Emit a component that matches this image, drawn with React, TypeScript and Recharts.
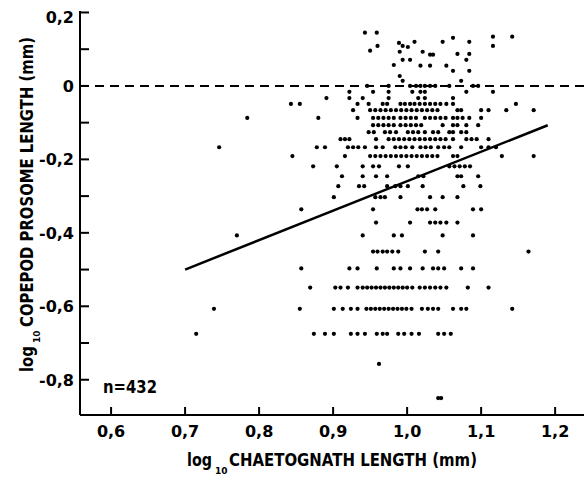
import React from 'react';
import { ScatterChart, Scatter, XAxis, YAxis, ReferenceLine } from 'recharts';

// log10 copepod prosome length: the discrete levels the points sit on
const copepodLevels = [
  0, -0.016, -0.033, -0.049, -0.066, -0.087, -0.107, -0.126, -0.145, -0.167, -0.191, -0.219,
  -0.246, -0.273, -0.303, -0.336, -0.372, -0.407, -0.451, -0.497, -0.549, -0.607, -0.675,
  -0.757, -0.85,
];

// log10 chaetognath length for the points on each level (same order as copepodLevels)
const chaetognathAtLevel = [
  [0.946, 0.975, 1.004, 1.012, 1.018, 1.024, 1.031, 1.038, 1.057, 1.089, 1.096],
  [0.922, 0.954, 0.975, 1.007, 1.018, 1.024, 1.08, 1.116],
  [0.891, 0.922, 0.94, 0.975, 1.015, 1.024, 1.062],
  [0.843, 0.855, 0.933, 0.948, 0.967, 0.973, 0.991, 0.997, 1.004, 1.01, 1.017, 1.024, 1.031, 1.038, 1.045, 1.053, 1.062, 1.147],
  [0.927, 0.95, 0.957, 0.964, 0.971, 0.978, 0.985, 0.992, 0.999, 1.006, 1.013, 1.02, 1.027, 1.034, 1.041, 1.068, 1.073, 1.1, 1.11, 1.134, 1.171],
  [0.784, 0.88, 0.933, 0.954, 0.961, 0.968, 0.975, 0.982, 0.991, 0.998, 1.005, 1.012, 1.024, 1.031, 1.038, 1.045, 1.052, 1.062, 1.068, 1.075, 1.084, 1.1],
  [0.954, 0.961, 0.968, 0.975, 0.982, 0.991, 0.998, 1.005, 1.012, 1.019, 1.048, 1.062, 1.068, 1.08, 1.096],
  [0.948, 0.955, 0.97, 0.977, 0.985, 1.001, 1.008, 1.015, 1.024, 1.035, 1.042, 1.057, 1.062, 1.073, 1.08],
  [0.91, 0.916, 0.922, 0.958, 0.975, 0.982, 0.989, 0.996, 1.003, 1.01, 1.017, 1.024, 1.031, 1.038, 1.045, 1.052, 1.062, 1.08, 1.087, 1.094, 1.11],
  [0.746, 0.878, 0.889, 0.92, 0.927, 0.934, 0.943, 0.958, 0.967, 0.984, 0.991, 0.998, 1.007, 1.018, 1.025, 1.032, 1.042, 1.05, 1.057, 1.073, 1.1, 1.11, 1.12],
  [0.845, 0.916, 0.95, 0.957, 0.964, 0.971, 0.978, 0.985, 0.992, 0.999, 1.006, 1.013, 1.02, 1.027, 1.034, 1.041, 1.062, 1.068, 1.128, 1.171],
  [0.873, 0.905, 0.94, 0.954, 0.962, 0.989, 1.001, 1.057, 1.064, 1.071, 1.078, 1.085],
  [0.912, 0.94, 0.958, 0.973, 1.015, 1.022, 1.068, 1.073, 1.096],
  [0.907, 0.935, 0.942, 0.973, 0.984, 0.991, 1.001, 1.021, 1.076, 1.099],
  [0.901, 0.957, 0.964, 0.97, 0.991, 1.031, 1.048, 1.068],
  [0.857, 0.954, 1.014, 1.02, 1.027, 1.038, 1.089, 1.1],
  [0.958, 1.004, 1.031, 1.038, 1.045, 1.053, 1.068],
  [0.77, 0.94, 0.982, 0.993, 1.048, 1.089],
  [0.954, 0.96, 0.967, 0.973, 0.98, 0.988, 1.024, 1.042, 1.164],
  [0.857, 0.922, 0.933, 0.959, 0.982, 0.991, 1.004, 1.021, 1.035, 1.042, 1.05, 1.073, 1.089],
  [0.869, 0.903, 0.91, 0.92, 0.933, 0.94, 0.946, 0.952, 0.958, 0.964, 0.97, 0.976, 0.982, 0.988, 0.994, 1.0, 1.007, 1.017, 1.024, 1.031, 1.038, 1.045, 1.053, 1.082, 1.11],
  [0.739, 0.855, 0.901, 0.913, 0.924, 0.933, 0.945, 0.951, 0.957, 0.963, 0.969, 0.975, 0.981, 0.987, 0.993, 0.999, 1.006, 1.02, 1.028, 1.035, 1.042, 1.062, 1.073, 1.08, 1.142],
  [0.715, 0.874, 0.889, 0.901, 0.924, 0.933, 0.943, 0.959, 0.967, 0.973, 0.988, 0.996, 1.006, 1.016, 1.042, 1.05, 1.059],
  [0.962],
  [1.042, 1.046],
];

// scattered points above the zero line
const upperChaetognath = [
  0.943, 0.959, 0.95, 0.96, 0.989, 0.994, 1.001, 1.01, 0.99, 1.021, 1.031, 1.035, 0.982, 0.994, 1.004, 1.018,
  1.031, 0.99, 0.994, 1.048, 1.062, 1.084, 1.116, 1.116, 1.142, 1.068, 1.084, 1.08, 1.053, 1.062, 1.084, 1.073,
];
const upperCopepod = [
  0.145, 0.145, 0.096, 0.109, 0.117, 0.109, 0.106, 0.12, 0.093, 0.093, 0.085, 0.085, 0.057, 0.071, 0.071, 0.055,
  0.055, 0.027, 0.014, 0.12, 0.131, 0.12, 0.134, 0.109, 0.134, 0.087, 0.087, 0.071, 0.055, 0.041, 0.041, 0.014,
];

// fitted regression line end points
const fitX = [0.7, 1.19];
const fitY = [-0.5, -0.107];

const xTicks = [0.6, 0.7, 0.8, 0.9, 1.0, 1.1, 1.2];
const yTicks = [-0.8, -0.7, -0.6, -0.5, -0.4, -0.3, -0.2, -0.1, 0, 0.1, 0.2];
const sampleSize = 432;

const points = [
  ...copepodLevels.flatMap((y, i) => chaetognathAtLevel[i].map((x) => ({ x, y }))),
  ...upperChaetognath.map((x, i) => ({ x, y: upperCopepod[i] })),
];

const font = '"DejaVu Sans", sans-serif';
const comma = (v: number) => (v === 0 ? '0' : v.toFixed(1).replace('.', ','));

// tick marks point into the plot (negative tickSize); only every other y tick gets a label
const YTick = (props: any) => {
  const { x, y, payload } = props;
  const v = payload.value;
  if (Math.round(v * 10) % 2 !== 0) return <g />;
  return (
    <text
      x={x - 6}
      y={v > 0.15 ? y + 5 : y}
      dy="0.36em"
      textAnchor="end"
      fontFamily={font}
      fontWeight="bold"
      fontSize={16}
      fill="#000"
    >
      {comma(v)}
    </text>
  );
};

const XTick = (props: any) => {
  const { x, y, payload } = props;
  return (
    <text x={x} y={y + 22} textAnchor="middle" fontFamily={font} fontWeight="bold" fontSize={16} fill="#000">
      {comma(payload.value)}
    </text>
  );
};

const Dot = (props: any) => <circle cx={props.cx} cy={props.cy} r={2.1} fill="#000" />;

export default function App() {
  return (
    <div style={{ position: 'absolute', left: 0, top: 0, width: 584, height: 477, background: '#fff' }}>
      <ScatterChart width={584} height={477} margin={{ top: 11, right: 0, bottom: 32, left: 20 }}>
        <XAxis
          type="number"
          dataKey="x"
          domain={[0.558, 1.239]}
          allowDataOverflow
          ticks={xTicks}
          tick={XTick}
          tickLine={{ stroke: '#000', strokeWidth: 2 }}
          tickSize={-8}
          tickMargin={8}
          height={30}
          axisLine={{ stroke: '#000', strokeWidth: 2 }}
        />
        <XAxis
          xAxisId="top"
          orientation="top"
          type="number"
          domain={[0.558, 1.239]}
          allowDataOverflow
          tick={false}
          tickLine={false}
          height={0}
          axisLine={{ stroke: '#000', strokeWidth: 2 }}
        />
        <YAxis
          type="number"
          dataKey="y"
          domain={[-0.896, 0.204]}
          allowDataOverflow
          ticks={yTicks}
          tick={YTick}
          tickLine={{ stroke: '#000', strokeWidth: 2 }}
          tickSize={-9}
          tickMargin={9}
          width={60}
          axisLine={{ stroke: '#000', strokeWidth: 2 }}
        />
        <ReferenceLine y={0} stroke="#000" strokeWidth={2} strokeDasharray="9 6" />
        <ReferenceLine
          segment={[
            { x: fitX[0], y: fitY[0] },
            { x: fitX[1], y: fitY[1] },
          ]}
          stroke="#000"
          strokeWidth={2.5}
        />
        <Scatter data={points} shape={Dot} isAnimationActive={false} />
      </ScatterChart>
      <svg width={584} height={477} style={{ position: 'absolute', left: 0, top: 0, pointerEvents: 'none' }}>
        <g fontFamily={font} fontWeight="bold" fill="#000">
          <g transform="translate(33,372) rotate(-90)">
            <text x={0} y={0} fontSize={17} textLength={26} lengthAdjust="spacingAndGlyphs">log</text>
            <text x={29} y={7} fontSize={9}>10</text>
            <text x={45} y={0} fontSize={17} textLength={290} lengthAdjust="spacingAndGlyphs">
              COPEPOD PROSOME LENGTH (mm)
            </text>
          </g>
          <text x={187} y={466} fontSize={17} textLength={25} lengthAdjust="spacingAndGlyphs">log</text>
          <text x={215} y={474} fontSize={9}>10</text>
          <text x={229} y={466} fontSize={17} textLength={248} lengthAdjust="spacingAndGlyphs">
            CHAETOGNATH LENGTH (mm)
          </text>
          <text x={103} y={393} fontSize={18} textLength={54} lengthAdjust="spacingAndGlyphs">
            n={sampleSize}
          </text>
        </g>
      </svg>
    </div>
  );
}
